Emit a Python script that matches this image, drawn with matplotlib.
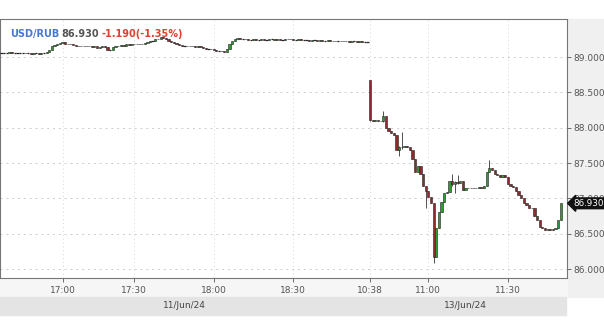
import matplotlib.pyplot as plt
from matplotlib.patches import Rectangle
from matplotlib.transforms import blended_transform_factory

# minute closes, 11/Jun/24 evening session (16:37 .. 18:55)
day1_close = [
    89.06, 89.06, 89.06, 89.07, 89.06, 89.06, 89.06, 89.06, 89.06,
    89.05, 89.05, 89.04, 89.05, 89.05, 89.04, 89.05, 89.05,
    89.07, 89.10, 89.15, 89.17,
    89.19, 89.20, 89.21, 89.19,
    89.18, 89.19, 89.17, 89.16, 89.15, 89.16,
    89.15, 89.16, 89.15, 89.14, 89.15, 89.13, 89.14, 89.15, 89.14,
    89.10, 89.10, 89.14, 89.16, 89.15,
    89.17, 89.16, 89.18, 89.17, 89.19, 89.18, 89.19, 89.18,
    89.19, 89.20, 89.21, 89.22, 89.22,
    89.25, 89.26, 89.28, 89.27,
    89.25, 89.23, 89.21, 89.20, 89.19,
    89.17, 89.16, 89.16, 89.15, 89.16, 89.15, 89.14, 89.15, 89.14,
    89.13, 89.12, 89.12, 89.11, 89.10, 89.09, 89.09, 89.08, 89.07,
    89.12, 89.18, 89.23, 89.26,
    89.27, 89.26, 89.26, 89.25, 89.24, 89.24, 89.25,
    89.24, 89.24, 89.25, 89.24, 89.24, 89.25, 89.25, 89.24, 89.25, 89.24,
    89.24, 89.25, 89.26, 89.25, 89.24, 89.24, 89.25, 89.24, 89.24, 89.24,
    89.23, 89.24, 89.24, 89.23, 89.24, 89.23, 89.23, 89.24, 89.23, 89.22,
    89.23, 89.23, 89.22, 89.23, 89.22, 89.21, 89.22, 89.22, 89.21, 89.22,
    89.21, 89.21, 89.21,
]
day1_first_open = 89.06

# minute closes, 13/Jun/24 (10:38 .. 11:50)
day2_close = [
    88.11, 88.10, 88.11, 88.09, 88.10, 88.16, 88.00, 87.96, 87.93, 87.90,
    87.69, 87.73, 87.72, 87.74, 87.72, 87.68, 87.55, 87.38, 87.46, 87.35,
    87.17, 87.10, 87.02, 86.93, 86.17, 86.58, 86.81, 86.95, 87.07, 87.09,
    87.24, 87.20, 87.23, 87.22, 87.24, 87.12, 87.15, 87.14, 87.15, 87.14,
    87.15, 87.16, 87.15, 87.17, 87.38, 87.43, 87.40, 87.35, 87.33, 87.30,
    87.33, 87.30, 87.21, 87.17, 87.16, 87.10, 87.05, 87.00, 86.93, 86.90,
    86.87, 86.86, 86.75, 86.69, 86.60, 86.58, 86.55, 86.56, 86.55, 86.57,
    86.58, 86.69, 86.93,
]
day2_first_open = 88.67
# visible wicks on day 2: candle number -> (high, low)
day2_wicks = {0: (88.68, 88.10), 5: (88.23, 88.08), 11: (87.74, 87.60),
              12: (87.94, 87.70), 21: (87.17, 86.86), 24: (86.93, 86.08),
              31: (87.35, 87.18), 32: (87.25, 87.07), 33: (87.33, 87.20),
              45: (87.54, 87.37)}

tick_pos = [23, 50, 80, 110, 139, 161, 191]
tick_labels = ["17:00", "17:30", "18:00", "18:30", "10:38", "11:00", "11:30"]
date_labels = ["11/Jun/24", "13/Jun/24"]
last_price = 86.930

GREEN = "#2f9a2f"
RED = "#8e2a2a"

fig = plt.figure(figsize=(6.04, 3.22), dpi=100)
W, H = 604.0, 322.0

# background bands
fig.patches.append(Rectangle((567 / W, (H - 297) / H), 37 / W, 278 / H,
                             transform=fig.transFigure, color="#f0f0f0", zorder=-5))
fig.patches.append(Rectangle((0, (H - 297) / H), 567 / W, 19 / H,
                             transform=fig.transFigure, color="#f6f6f6", zorder=-5))
fig.patches.append(Rectangle((0, (H - 315) / H), 566 / W, 18 / H,
                             transform=fig.transFigure, color="#e4e4e4", zorder=-5))

ax = fig.add_axes([0, (H - 278) / H, 567 / W, 259 / H])


def draw_candles(start, first_open, closes, wicks):
    opn = first_open
    for k, c in enumerate(closes):
        x = start + k
        hi, lo = wicks.get(k, (max(opn, c), min(opn, c)))
        if hi > lo:
            ax.vlines(x, lo, hi, color="#333333", lw=0.6, zorder=2)
        if abs(c - opn) < 0.005:
            ax.hlines(c, x - 0.45, x + 0.45, color="#222222", lw=0.9, zorder=3)
        else:
            col = GREEN if c > opn else RED
            ax.bar(x, abs(c - opn), bottom=min(c, opn), width=0.85,
                   color=col, edgecolor="#222222", linewidth=0.4, zorder=3)
        opn = c


draw_candles(0, day1_first_open, day1_close, {})
draw_candles(139, day2_first_open, day2_close, day2_wicks)

ax.set_xlim(-0.6, 213.3)
ax.set_ylim(85.873, 89.538)

ax.yaxis.tick_right()
ax.set_yticks([86.0, 86.5, 87.0, 87.5, 88.0, 88.5, 89.0])
ax.set_yticklabels(["86.000", "86.500", "87.000", "87.500", "88.000", "88.500", "89.000"])
ax.set_xticks(tick_pos)
ax.set_xticklabels(tick_labels)
ax.tick_params(axis="both", colors="#555555", labelsize=6.5, length=3, width=0.6)
ax.tick_params(axis="y", pad=1.5)
ax.tick_params(axis="x", pad=2.5)
ax.grid(True, axis="y", color="#cccccc", lw=0.7, linestyle=(0, (2, 4)))
ax.grid(True, axis="x", color="#d5d5d5", lw=0.7, linestyle=(0, (1, 3)))
ax.set_axisbelow(True)
for s in ax.spines.values():
    s.set_color("#777777")
    s.set_linewidth(0.8)

# title
ax.text(10 / 567, 0.96, "USD/RUB", transform=ax.transAxes, color="#4a78d0",
        fontsize=7, fontweight="bold", va="top")
ax.text(61 / 567, 0.96, "86.930", transform=ax.transAxes, color="#555555",
        fontsize=7, fontweight="bold", va="top")
ax.text(101 / 567, 0.96, "-1.190(-1.35%)", transform=ax.transAxes, color="#d9432f",
        fontsize=7, fontweight="bold", va="top")

# last price marker
tr = blended_transform_factory(ax.transAxes, ax.transData)
ax.text(1.011, last_price, "86.930", transform=tr, color="white", fontsize=6.3,
        va="center", ha="left", clip_on=False, zorder=5,
        bbox=dict(boxstyle="larrow,pad=0.1", fc="#111111", ec="#111111"))

# date labels
day1_mid = (len(day1_close) - 1) / 2
day2_mid = 139 + (len(day2_close) - 1) / 2
trd = blended_transform_factory(ax.transData, fig.transFigure)
ax.text(day1_mid, (H - 305) / H, date_labels[0], transform=trd, ha="center",
        va="center", fontsize=6.5, color="#444444", clip_on=False)
ax.text(day2_mid, (H - 305) / H, date_labels[1], transform=trd, ha="center",
        va="center", fontsize=6.5, color="#444444", clip_on=False)

fig.savefig("out.png", dpi=100)
